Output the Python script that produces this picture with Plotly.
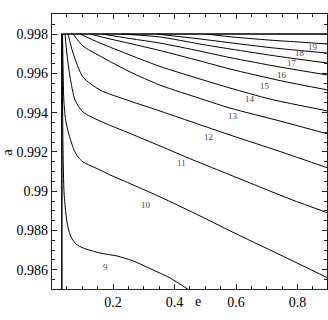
import plotly.graph_objects as go

# contour levels and their label positions (e, a)
levels = [9, 10, 11, 12, 13, 14, 15, 16, 17, 18, 19]
label_e = [0.177, 0.307, 0.424, 0.509, 0.590, 0.646, 0.694, 0.750, 0.781, 0.808, 0.850]
label_a = [0.98614, 0.98930, 0.99144, 0.99276, 0.99383, 0.99469, 0.99535, 0.99591, 0.99652, 0.99703, 0.99734]

# contour lines
e_9 = [0.0345, 0.0358, 0.0374, 0.0407, 0.0472, 0.0537, 0.0634, 0.0797, 0.1024, 0.1577, 0.2130, 0.2650, 0.3301, 0.3854, 0.4440]
a_9 = [0.99800, 0.99464, 0.99210, 0.98991, 0.98879, 0.98813, 0.98767, 0.98731, 0.98711, 0.98685, 0.98670, 0.98645, 0.98599, 0.98558, 0.98500]

e_10 = [0.0358, 0.0400, 0.0460, 0.0554, 0.0730, 0.0862, 0.1024, 0.1577, 0.1902, 0.2650, 0.3528, 0.4829, 0.5805, 0.7431, 0.8992]
a_10 = [0.99800, 0.99464, 0.99362, 0.99296, 0.99210, 0.99174, 0.99149, 0.99108, 0.99083, 0.99032, 0.98971, 0.98874, 0.98798, 0.98676, 0.98558]

e_11 = [0.0439, 0.0504, 0.0602, 0.0764, 0.1024, 0.1577, 0.2553, 0.3528, 0.4602, 0.5805, 0.6780, 0.7789, 0.8992]
a_11 = [0.99800, 0.99693, 0.99581, 0.99464, 0.99403, 0.99357, 0.99294, 0.99230, 0.99159, 0.99083, 0.99021, 0.98958, 0.98889]

e_12 = [0.0537, 0.0699, 0.1024, 0.1577, 0.2553, 0.3528, 0.4179, 0.5805, 0.7431, 0.8992]
a_12 = [0.99800, 0.99703, 0.99581, 0.99515, 0.99459, 0.99408, 0.99373, 0.99286, 0.99202, 0.99118]

e_13 = [0.0699, 0.1024, 0.1577, 0.2553, 0.3528, 0.4927, 0.5805, 0.7431, 0.8992]
a_13 = [0.99800, 0.99739, 0.99688, 0.99607, 0.99540, 0.99467, 0.99423, 0.99357, 0.99291]

e_14 = [0.0927, 0.1577, 0.2553, 0.3528, 0.4829, 0.5805, 0.7106, 0.8992]
a_14 = [0.99800, 0.99754, 0.99693, 0.99635, 0.99571, 0.99525, 0.99469, 0.99408]

e_15 = [0.1252, 0.1902, 0.2553, 0.3528, 0.4829, 0.5805, 0.7431, 0.8992]
a_15 = [0.99800, 0.99775, 0.99752, 0.99716, 0.99663, 0.99622, 0.99563, 0.99515]

e_16 = [0.1642, 0.2553, 0.3528, 0.4829, 0.5805, 0.7431, 0.8992]
a_16 = [0.99800, 0.99777, 0.99754, 0.99713, 0.99680, 0.99632, 0.99591]

e_17 = [0.2293, 0.3528, 0.4829, 0.5805, 0.7431, 0.8992]
a_17 = [0.99800, 0.99785, 0.99749, 0.99724, 0.99685, 0.99652]

e_18 = [0.3431, 0.4829, 0.5740, 0.7106, 0.8081, 0.8992]
a_18 = [0.99800, 0.99775, 0.99757, 0.99731, 0.99716, 0.99703]

e_19 = [0.5057, 0.5740, 0.7106, 0.8081, 0.8992]
a_19 = [0.99800, 0.99787, 0.99769, 0.99759, 0.99749]

# edge of the computed region
edge_e = [0.0335, 0.0335, 0.9]
edge_a = [0.98502, 0.998, 0.998]

x_ticks = [0.2, 0.4, 0.6, 0.8]
y_ticks = [0.998, 0.996, 0.994, 0.992, 0.99, 0.988, 0.986]
y_ticktext = ["0.998", "0.996", "0.994", "0.992", "0.99", "0.988", "0.986"]

lines = [(9, e_9, a_9), (10, e_10, a_10), (11, e_11, a_11), (12, e_12, a_12),
         (13, e_13, a_13), (14, e_14, a_14), (15, e_15, a_15), (16, e_16, a_16),
         (17, e_17, a_17), (18, e_18, a_18), (19, e_19, a_19)]

serif = "Liberation Serif, Times New Roman, serif"

fig = go.Figure()
for lev, ex, ay in lines:
    fig.add_trace(go.Scatter(x=ex, y=ay, mode="lines", name=str(lev),
                             line=dict(color="black", width=1.0, shape="spline", smoothing=0.7),
                             hoverinfo="skip"))

fig.add_trace(go.Scatter(x=edge_e, y=edge_a, mode="lines",
                         line=dict(color="black", width=1.5), hoverinfo="skip"))

for lev, le, la in zip(levels, label_e, label_a):
    fig.add_annotation(x=le, y=la, text=str(lev), showarrow=False,
                       font=dict(family=serif, size=9, color="#444"))

fig.add_annotation(x=0.531, y=-0.044, xref="paper", yref="paper", text="e",
                   xanchor="center", yanchor="middle", showarrow=False,
                   font=dict(family=serif, size=14, color="black"))
fig.add_annotation(x=-0.162, y=0.498, xref="paper", yref="paper", text="a",
                   xanchor="center", yanchor="middle", textangle=-90, showarrow=False,
                   font=dict(family=serif, size=14, color="black"))

axis_common = dict(showgrid=False, zeroline=False, showline=True, linecolor="#222",
                   linewidth=1.2, mirror="ticks", ticks="inside", ticklen=5,
                   tickcolor="#222", tickwidth=1,
                   tickfont=dict(family=serif, size=14, color="black"))

fig.update_xaxes(range=[0.0015, 0.8958], tickvals=x_ticks,
                 minor=dict(dtick=0.05, ticks="inside", ticklen=3, tickcolor="#222"),
                 **axis_common)
fig.update_yaxes(range=[0.98502, 0.99902], tickvals=y_ticks, ticktext=y_ticktext,
                 minor=dict(dtick=0.0005, ticks="inside", ticklen=3, tickcolor="#222"),
                 **axis_common)

fig.update_layout(width=328, height=320, showlegend=False,
                  margin=dict(l=52, r=1, t=14, b=31),
                  plot_bgcolor="white", paper_bgcolor="white")

# the page body has a default 8px margin; remove it so the figure sits at 0,0
fig.write_html("out.html", config={"displayModeBar": False},
               post_script="document.body.style.margin='0';")
